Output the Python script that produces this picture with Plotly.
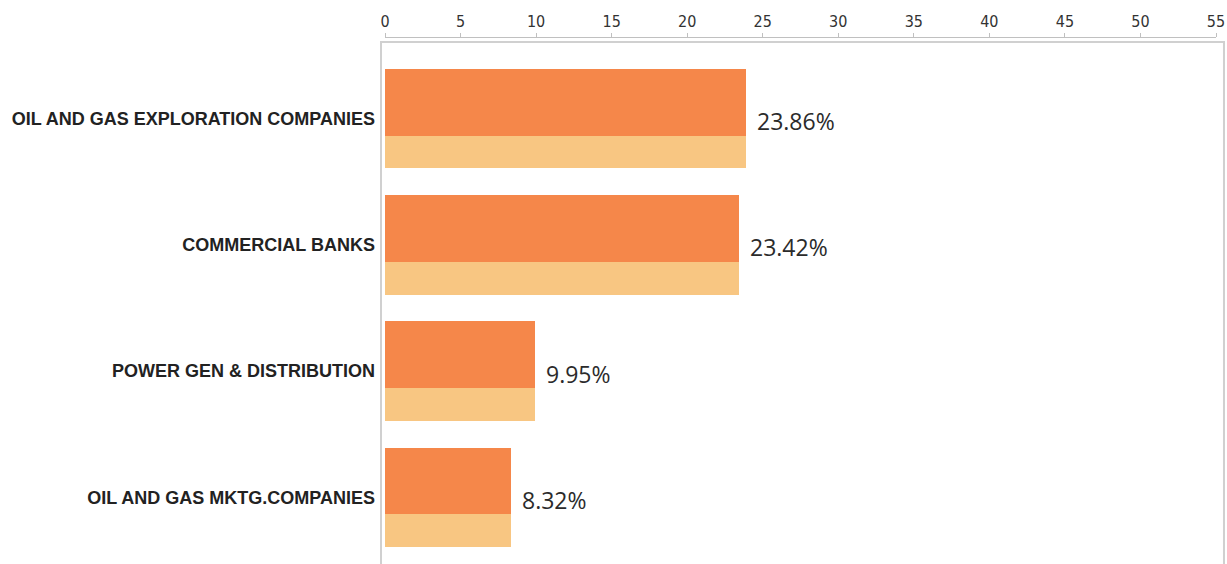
import plotly.graph_objects as go

categories = ["OIL AND GAS EXPLORATION COMPANIES", "COMMERCIAL BANKS",
              "POWER GEN & DISTRIBUTION", "OIL AND GAS MKTG.COMPANIES"]
values = [23.86, 23.42, 9.95, 8.32]
value_labels = ["23.86%", "23.42%", "9.95%", "8.32%"]
x_ticks = [0, 5, 10, 15, 20, 25, 30, 35, 40, 45, 50, 55]

ypos = list(range(len(categories)))

fig = go.Figure()
# light lower strip
fig.add_trace(go.Bar(
    x=values, y=ypos, orientation="h",
    width=0.79, offset=-0.395,
    marker=dict(color="#F8C682", line=dict(width=0)),
    hoverinfo="skip", showlegend=False))
# orange upper part
fig.add_trace(go.Bar(
    x=values, y=ypos, orientation="h",
    width=0.53, offset=-0.395,
    marker=dict(color="#F5874A", line=dict(width=0)),
    hoverinfo="skip", showlegend=False))

for v, yy, t in zip(values, ypos, value_labels):
    fig.add_annotation(x=v, y=yy + 0.02, text=t, xref="x", yref="y",
                       xanchor="left", yanchor="middle", showarrow=False,
                       xshift=9, font=dict(family="Open Sans, Noto Sans, sans-serif",
                                           size=23, color="#2b2b2b"))

# frame box
fig.add_shape(type="rect", xref="paper", yref="paper",
              x0=-0.0048, x1=1.0096, y0=-0.1, y1=0.9924,
              line=dict(color="#d0d0d0", width=2), fillcolor="rgba(0,0,0,0)",
              layer="below")

fig.update_layout(
    width=1227, height=564,
    margin=dict(l=385, r=11, t=38, b=0, autoexpand=False),
    paper_bgcolor="white", plot_bgcolor="white",
    barmode="overlay",
    bargap=0,
    xaxis=dict(side="top", range=[0, 55], tickvals=x_ticks, automargin=False,
               ticks="outside", ticklen=4, tickcolor="#c0c0c0",
               showline=True, linecolor="#c0c0c0", linewidth=1,
               showgrid=False, zeroline=False,
               tickfont=dict(family="DejaVu Sans Condensed, Liberation Sans Narrow, sans-serif",
                             size=16, color="#333333")),
    yaxis=dict(range=[3.527, -0.637], tickvals=ypos, ticktext=categories,
               automargin=False,
               showgrid=False, zeroline=False, showline=False, ticks="",
               ticklabelstandoff=9,
               tickfont=dict(family="Liberation Sans, Arial, sans-serif",
                             size=18, color="#222222", weight="bold")),
)

fig.write_html("out.html", config={"displayModeBar": False},
               post_script="document.body.style.margin='0';document.body.style.overflow='hidden';")
